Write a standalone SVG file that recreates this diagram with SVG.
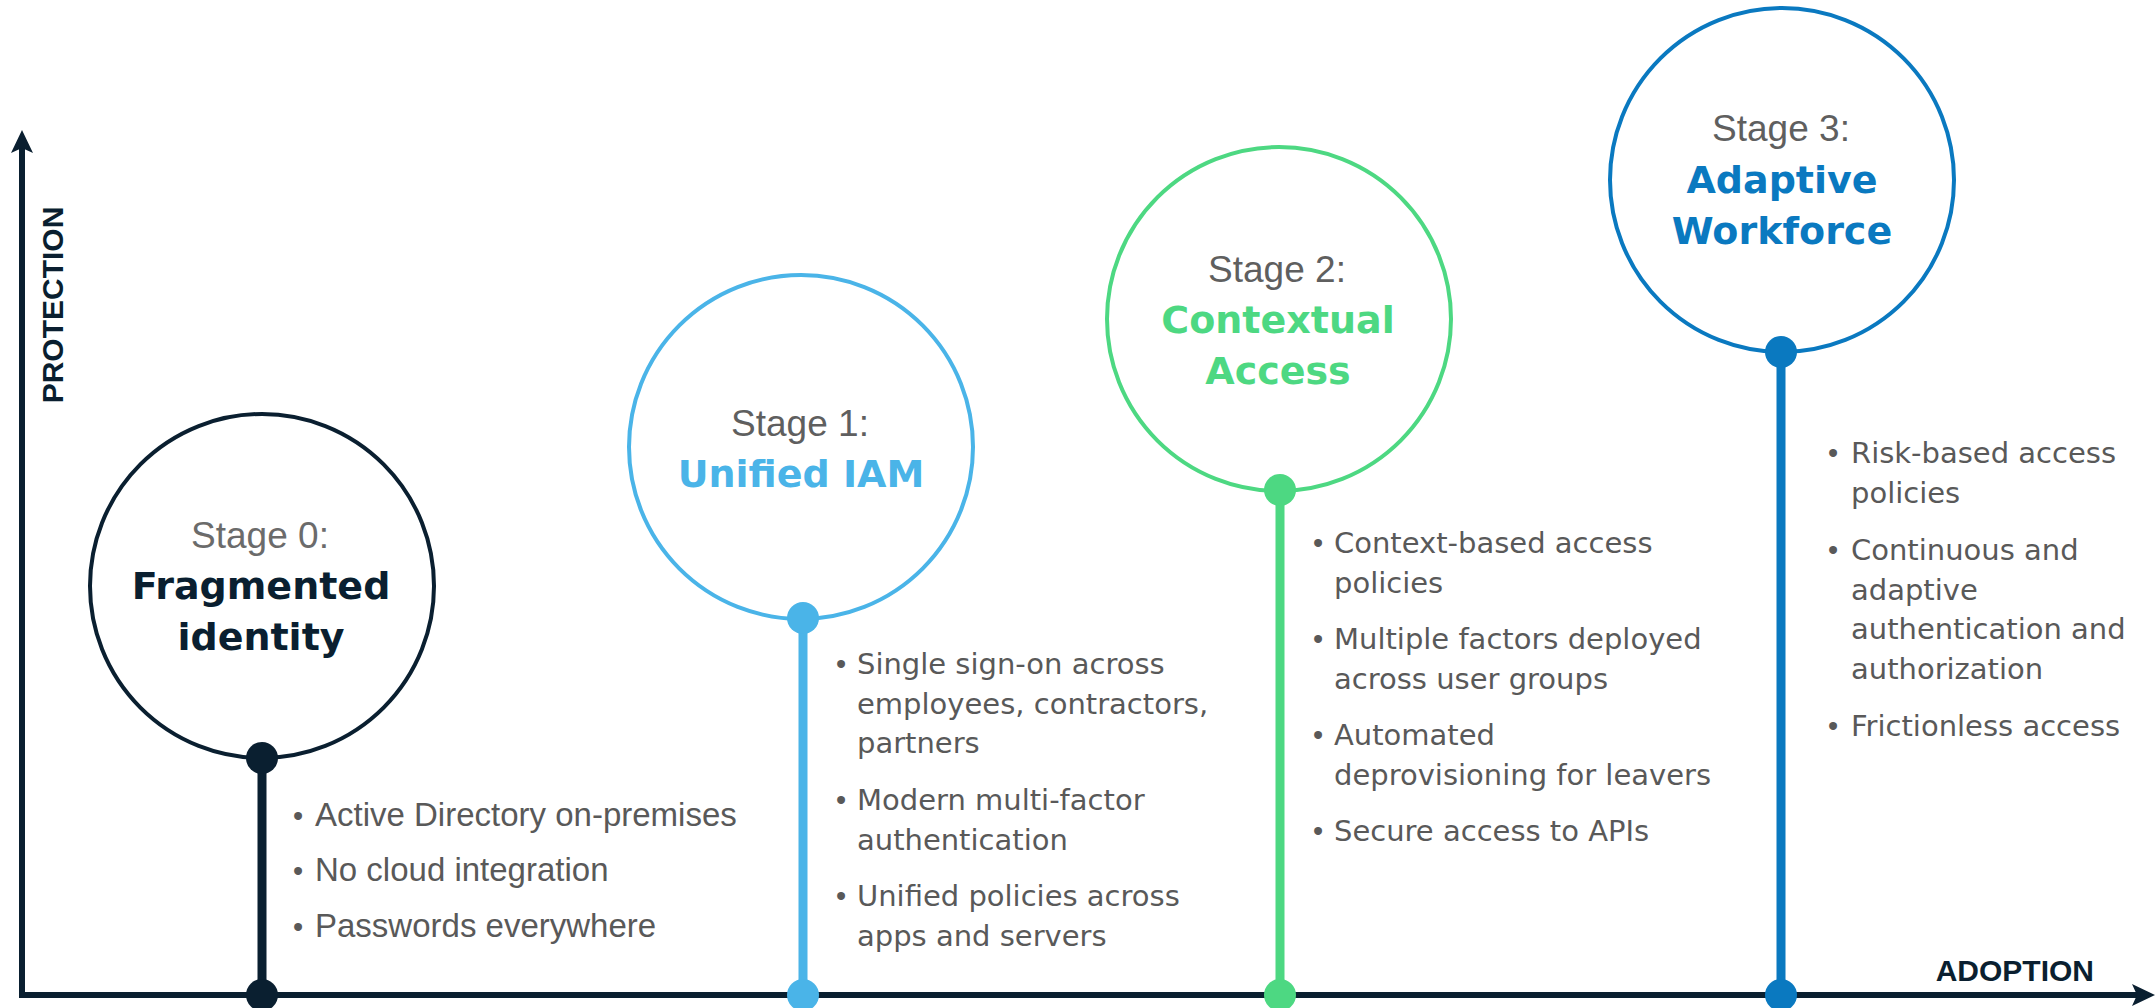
<svg xmlns="http://www.w3.org/2000/svg" width="2156" height="1008" viewBox="0 0 2156 1008">
<style>
.stage{font-family:"Liberation Sans",Arial,sans-serif;font-size:37px;fill:#5f5f5f;text-anchor:middle}
.title{font-family:"DejaVu Sans",Verdana,sans-serif;font-size:38px;font-weight:bold;text-anchor:middle}
.b{font-family:"DejaVu Sans",Verdana,sans-serif;font-size:29px;fill:#595959}
.b0{font-family:"Liberation Sans",Arial,sans-serif;font-size:33px;fill:#595959}
.dot{font-family:"Liberation Sans",Arial,sans-serif;font-size:29px;fill:#595959;text-anchor:middle}
.axislabel{font-family:"Liberation Sans",Arial,sans-serif;font-size:30px;font-weight:bold;fill:#0a1f30}
.ring{fill:#fff;stroke-width:4}
.stem{stroke-width:9;fill:none}
</style>
<rect width="2156" height="1008" fill="#fff"/>
<g id="axes">
<line x1="22" y1="995" x2="22" y2="146" stroke="#0a1f30" stroke-width="6"/>
<path d="M22,130 L33,153 L22,148 L11,153 Z" fill="#0a1f30"/>
<line x1="19" y1="995" x2="2140" y2="995" stroke="#0a1f30" stroke-width="6"/>
<path d="M2155,995 L2132,984 L2137,995 L2132,1006 Z" fill="#0a1f30"/>
<text class="axislabel" x="63" y="305" text-anchor="middle" transform="rotate(-90 63 305)">PROTECTION</text>
<text class="axislabel" x="2094" y="981" text-anchor="end" font-size="29">ADOPTION</text>
</g>
<g id="connectors">
<line class="stem" x1="262" y1="758" x2="262" y2="995" stroke="#0a1f30"/>
<line class="stem" x1="803" y1="618" x2="803" y2="995" stroke="#4ab4e8"/>
<line class="stem" x1="1280" y1="490" x2="1280" y2="995" stroke="#4dd882"/>
<line class="stem" x1="1781" y1="352" x2="1781" y2="995" stroke="#0a79c0"/>
</g>
<g id="stage0">
<circle class="ring" cx="262" cy="586" r="172" stroke="#0a1f30"/>
<circle cx="262" cy="758" r="16" fill="#0a1f30"/>
<circle cx="262" cy="995" r="16" fill="#0a1f30"/>
<text class="stage" x="260" y="548" fill="#6b6b6b" style="fill:#6b6b6b">Stage 0:</text>
<text class="title" x="261" y="599" fill="#0a1f30">Fragmented</text>
<text class="title" x="261" y="650" fill="#0a1f30">identity</text>
<text class="dot" x="298" y="826">•</text><text class="b0" x="315" y="826">Active Directory on-premises</text>
<text class="dot" x="298" y="881">•</text><text class="b0" x="315" y="881">No cloud integration</text>
<text class="dot" x="298" y="937">•</text><text class="b0" x="315" y="937">Passwords everywhere</text>
</g>
<g id="stage1">
<circle class="ring" cx="801" cy="447" r="172" stroke="#4ab4e8"/>
<circle cx="803" cy="618" r="16" fill="#4ab4e8"/>
<circle cx="803" cy="995" r="16" fill="#4ab4e8"/>
<text class="stage" x="800" y="436">Stage 1:</text>
<text class="title" x="801" y="487" fill="#4ab4e8">Unified IAM</text>
<text class="dot" x="841" y="674">•</text><text class="b" x="857" y="674">Single sign-on across</text>
<text class="b" x="857" y="713.5">employees, contractors,</text>
<text class="b" x="857" y="753">partners</text>
<text class="dot" x="841" y="810">•</text><text class="b" x="857" y="810">Modern multi-factor</text>
<text class="b" x="857" y="849.5">authentication</text>
<text class="dot" x="841" y="906">•</text><text class="b" x="857" y="906">Unified policies across</text>
<text class="b" x="857" y="945.5">apps and servers</text>
</g>
<g id="stage2">
<circle class="ring" cx="1279" cy="319" r="172" stroke="#4dd882"/>
<circle cx="1280" cy="490" r="16" fill="#4dd882"/>
<circle cx="1280" cy="995" r="16" fill="#4dd882"/>
<text class="stage" x="1277" y="282">Stage 2:</text>
<text class="title" x="1278" y="333" fill="#4dd882">Contextual</text>
<text class="title" x="1278" y="384" fill="#4dd882">Access</text>
<text class="dot" x="1318" y="553">•</text><text class="b" x="1334" y="553">Context-based access</text>
<text class="b" x="1334" y="592.5">policies</text>
<text class="dot" x="1318" y="649">•</text><text class="b" x="1334" y="649">Multiple factors deployed</text>
<text class="b" x="1334" y="688.5">across user groups</text>
<text class="dot" x="1318" y="745">•</text><text class="b" x="1334" y="745">Automated</text>
<text class="b" x="1334" y="784.5">deprovisioning for leavers</text>
<text class="dot" x="1318" y="841">•</text><text class="b" x="1334" y="841">Secure access to APIs</text>
</g>
<g id="stage3">
<circle class="ring" cx="1782" cy="180" r="172" stroke="#0a79c0"/>
<circle cx="1781" cy="352" r="16" fill="#0a79c0"/>
<circle cx="1781" cy="995" r="16" fill="#0a79c0"/>
<text class="stage" x="1781" y="141">Stage 3:</text>
<text class="title" x="1782" y="192.5" fill="#0a79c0">Adaptive</text>
<text class="title" x="1782" y="243.5" fill="#0a79c0">Workforce</text>
<text class="dot" x="1833" y="463">•</text><text class="b" x="1851" y="463">Risk-based access</text>
<text class="b" x="1851" y="502.5">policies</text>
<text class="dot" x="1833" y="560">•</text><text class="b" x="1851" y="560">Continuous and</text>
<text class="b" x="1851" y="599.5">adaptive</text>
<text class="b" x="1851" y="639">authentication and</text>
<text class="b" x="1851" y="678.5">authorization</text>
<text class="dot" x="1833" y="735.5">•</text><text class="b" x="1851" y="735.5">Frictionless access</text>
</g>
</svg>
